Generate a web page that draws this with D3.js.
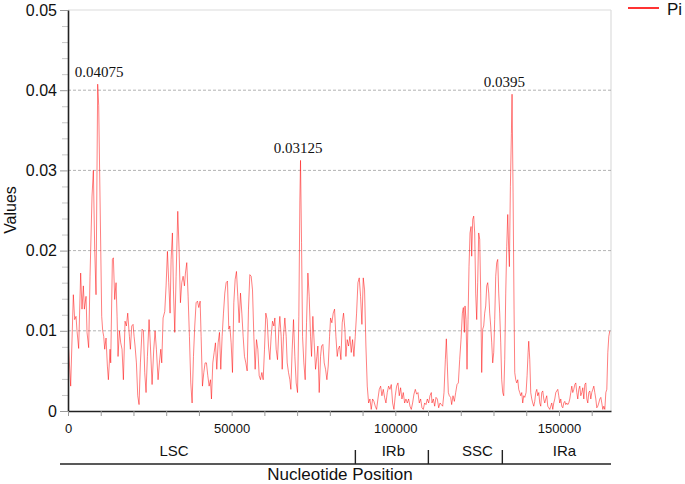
<!DOCTYPE html>
<html>
<head>
<meta charset="utf-8">
<script src="https://cdn.jsdelivr.net/npm/d3@7"></script>
<style>
  body { margin: 0; background: #fff; }
  svg { display: block; font-family: "Liberation Sans", Arial, sans-serif; }
</style>
</head>
<body>
<div id="chart"></div>
<script>
// Sliding-window nucleotide diversity: [position (kb), Pi]
const piSeries = [
  [0.2,.0077],[0.82,.0031],[1.63,.0145],[2.04,.0114],[2.45,.0118],[2.75,.0100],[3.26,.0078],[3.87,.0172],[4.28,.0127],[4.69,.0156],
  [5.00,.0127],[5.51,.0143],[5.81,.0098],[6.32,.0079],[6.73,.0168],[7.34,.0268],[7.75,.0300],[8.16,.0201],[8.56,.0145],[9.07,.04075],
  [9.38,.0381],[10.30,.0118],[10.60,.0100],[10.91,.0093],[11.22,.0077],[11.62,.0091],[12.03,.0056],[12.34,.0039],[12.85,.0077],[13.05,.0060],
  [13.56,.0189],[13.86,.0191],[14.27,.0139],[14.68,.0160],[14.99,.0118],[15.29,.0068],[15.70,.0100],[16.11,.0085],[16.51,.0077],[16.92,.0039],
  [17.43,.0112],[17.84,.0106],[18.25,.0122],[18.76,.0093],[19.06,.0077],[19.47,.0106],[19.88,.0108],[20.19,.0093],[20.49,.0081],[20.90,.0060],
  [21.31,.0019],[21.71,.0008],[22.12,.0060],[22.63,.0102],[23.04,.0100],[23.44,.0048],[23.85,.0023],[24.26,.0068],[24.77,.0114],[25.18,.0081],
  [25.69,.0033],[26.20,.0077],[26.60,.0100],[27.01,.0077],[27.52,.0039],[27.93,.0060],[28.34,.0077],[28.64,.0060],[29.05,.0116],[29.56,.0124],
  [29.97,.0156],[30.38,.0199],[30.78,.0160],[31.19,.0122],[31.50,.0189],[31.90,.0222],[32.21,.0151],[32.62,.0098],[33.03,.0168],[33.54,.0249],
  [33.94,.0201],[34.35,.0135],[34.76,.0160],[35.17,.0168],[35.57,.0156],[35.88,.0172],[36.29,.0185],[36.70,.0143],[37.10,.0093],[37.51,.0035],
  [37.92,.0010],[38.33,.0068],[38.73,.0106],[39.14,.0135],[39.55,.0137],[39.96,.0129],[40.37,.0137],[40.67,.0093],[41.08,.0031],[41.49,.0048],
  [41.89,.0060],[42.30,.0060],[42.71,.0044],[43.12,.0031],[43.52,.0039],[43.83,.0015],[44.24,.0060],[44.65,.0073],[45.05,.0085],[45.46,.0052],
  [45.87,.0085],[46.28,.0098],[46.68,.0052],[47.09,.0093],[47.50,.0122],[47.91,.0147],[48.32,.0160],[48.72,.0162],[49.13,.0102],[49.44,.0106],
  [49.84,.0085],[50.25,.0048],[50.66,.0135],[51.07,.0164],[51.47,.0174],[51.88,.0143],[52.29,.0110],[52.70,.0147],[53.11,.0122],[53.51,.0093],
  [53.92,.0068],[54.33,.0060],[54.74,.0050],[55.14,.0127],[55.55,.0170],
  [55.96,.0168],[56.37,.0151],[56.78,.0093],[57.18,.0052],[57.59,.0089],[58.00,.0077],[58.41,.0044],[58.81,.0039],[59.22,.0048],[59.63,.0039],
  [60.04,.0077],[60.44,.0122],[60.85,.0114],[61.26,.0081],[61.67,.0064],[62.07,.0093],[62.48,.0112],[62.89,.0106],[63.20,.0116],[63.60,.0077],
  [64.01,.0064],[64.42,.0102],[64.72,.0118],[65.13,.0093],[65.44,.0052],[65.84,.0093],[66.25,.0116],[66.66,.0093],[66.97,.0060],[67.37,.0048],
  [67.78,.0039],[68.09,.0027],[68.49,.0077],[68.90,.0114],[69.31,.0068],[69.72,.0035],[70.13,.0023],[70.53,.0118],[70.84,.0263],[71.04,.03125],
  [71.35,.0210],[71.66,.0093],[72.06,.0060],[72.47,.0039],[72.88,.0110],[73.29,.0172],[73.69,.0143],[74.10,.0093],[74.41,.0068],[74.81,.0118],
  [75.22,.0085],[75.63,.0052],[76.04,.0068],[76.34,.0081],[76.75,.0023],[77.16,.0068],[77.47,.0081],[77.87,.0083],[78.28,.0060],[78.69,.0052],
  [79.10,.0039],[79.50,.0056],[79.91,.0093],[80.22,.0116],[80.62,.0110],[81.03,.0122],[81.44,.0127],[81.85,.0093],[82.26,.0068],[82.56,.0077],
  [82.97,.0081],[83.38,.0064],[83.78,.0110],[84.19,.0122],[84.60,.0102],[84.91,.0068],[85.31,.0089],[85.72,.0081],[86.13,.0093],[86.54,.0073],
  [86.94,.0089],[87.35,.0068],[87.76,.0093],[88.17,.0122],[88.58,.0160],[88.98,.0166],[89.39,.0143],[89.80,.0108],[90.21,.0166],[90.61,.0151],
  [91.02,.0081],[91.43,.0031],[91.84,.0010],[92.24,.0015],[92.65,.0002],[93.06,.0015],[93.47,.0012],[93.88,.0006],[94.28,.0002],[94.69,.0015],
  [95.10,.0027],[95.51,.0031],[95.91,.0019],[96.32,.0027],[96.73,.0017],[97.14,.0010],[97.54,.0023],[97.95,.0031],[98.36,.0027],[98.77,.0033],
  [99.18,.0010],[99.58,.0002],[99.99,.0019],[100.40,.0031],[100.81,.0035],[101.21,.0019],[101.62,.0029],[102.03,.0015],[102.44,.0023],[102.85,.0010],
  [103.25,.0015],[103.66,.0010],[104.07,.0015],[104.48,.0006],[104.88,.0002],[105.29,.0010],[105.70,.0021],[106.11,.0027],[106.52,.0021],[106.92,.0023],
  [107.33,.0010],[107.74,.0015],[108.15,.0004],[108.55,.0002],[108.96,.0010],[109.37,.0008],[109.78,.0015],[110.19,.0010],[110.59,.0019],[111.00,.0023],
  [111.21,.0010],[111.62,.0015],[112.03,.0006],[112.43,.0017],[112.84,.0015],[113.25,.0004],[113.66,.0010],[114.06,.0008],[114.47,.0006],[114.88,.0023],
  [115.29,.0064],[115.59,.0090],[115.90,.0056],[116.20,.0023],[116.51,.0019],[116.92,.0017],[117.22,.0008],[117.63,.0019],[118.04,.0012],[118.45,.0023],
  [118.85,.0033],[119.26,.0035],[119.67,.0064],[120.08,.0089],[120.49,.0122],[120.79,.0129],[121.10,.0098],[121.30,.0131],[121.61,.0114],[121.91,.0052],
  [122.22,.0114],[122.52,.0180],[122.83,.0222],[123.14,.0230],[123.34,.0193],[123.65,.0239],[123.95,.0243],[124.26,.0222],[124.56,.0147],[124.87,.0114],
  [125.17,.0160],[125.48,.0222],[125.79,.0214],[126.09,.0147],[126.40,.0048],[126.70,.0102],[127.01,.0106],[127.31,.0122],[127.62,.0131],[127.93,.0156],
  [128.23,.0160],[128.54,.0147],[128.84,.0122],[129.15,.0106],[129.46,.0085],[129.76,.0060],[130.07,.0073],[130.37,.0114],[130.68,.0168],[130.98,.0185],
  [131.29,.0189],[131.60,.0147],[131.90,.0122],[132.21,.0085],[132.51,.0039],[132.82,.0023],[133.12,.0019],[133.43,.0064],[133.74,.0147],[134.04,.0205],
  [134.35,.0245],[134.65,.0201],[134.86,.0180],[135.16,.0280],[135.47,.0346],[135.67,.0395],[135.98,.0272],[136.28,.0127],[136.49,.0048],[136.79,.0039],
  [137.10,.0035],[137.41,.0039],[137.71,.0027],[138.02,.0023],[138.32,.0019],[138.63,.0023],[138.93,.0010],[139.24,.0019],[139.55,.0017],[139.95,.0023],
  [140.26,.0044],[140.57,.0073],[140.77,.0087],[141.08,.0064],[141.38,.0023],[141.69,.0015],[141.99,.0010],[142.30,.0006],[142.60,.0012],[142.91,.0023],
  [143.22,.0027],[143.52,.0019],[143.83,.0023],[144.13,.0010],[144.44,.0006],[144.74,.0023],[145.05,.0025],[145.36,.0015],[145.66,.0010],[145.97,.0015],
  [146.27,.0019],[146.58,.0006],[146.89,.0004],[147.19,.0002],[147.50,.0006],[147.80,.0010],[148.11,.0002],[148.41,.0010],[148.72,.0015],[149.03,.0023],
  [149.33,.0025],[149.64,.0027],[149.94,.0019],[150.25,.0010],[150.55,.0015],[150.86,.0006],[151.17,.0004],[151.47,.0010],[151.78,.0012],[152.08,.0008],
  [152.39,.0010],[152.70,.0008],[153.00,.0010],[153.31,.0015],[153.61,.0023],[153.92,.0031],[154.22,.0023],[154.53,.0027],[154.84,.0033],[155.14,.0035],
  [155.45,.0023],[155.75,.0015],[156.06,.0027],[156.36,.0031],[156.67,.0019],[156.98,.0023],[157.28,.0029],[157.59,.0015],[157.89,.0033],[158.20,.0035],
  [158.51,.0015],[158.81,.0010],[159.12,.0023],[159.42,.0025],[159.73,.0015],[160.03,.0023],[160.34,.0027],[160.65,.0031],[160.95,.0023],[161.26,.0015],
  [161.56,.0004],[161.87,.0006],[162.17,.0010],[162.48,.0015],[162.79,.0017],[163.09,.0010],[163.40,.0002],[163.70,.0006],[164.01,.0002],[164.32,.0023],
  [164.62,.0027],[164.93,.0073],[165.23,.0093],[165.54,.0100]
];

const genomeLength = 165900;
const yMax = 0.05;
const xTickValues = [0, 50000, 100000, 150000];
const yTickValues = [0, 0.01, 0.02, 0.03, 0.04, 0.05];
const gridValues = [0.01, 0.02, 0.03, 0.04];

// chloroplast regions
const regionNames = ["LSC", "IRb", "SSC", "IRa"];
const regionLabelPos = [32400, 99400, 125100, 151700];
const regionBreaks = [87800, 110100, 132700];

// peak annotations
const peakTexts = ["0.04075", "0.03125", "0.0395"];
const peakValues = [0.04075, 0.03125, 0.0395];
const peakLabelPos = [9500, 70300, 133300];

const W = 685, H = 484;
const margin = { top: 10, right: 74, bottom: 73, left: 68 },
    width = W - margin.left - margin.right,
    height = H - margin.top - margin.bottom;

const svg = d3.select("#chart")
    .append("svg")
    .attr("width", W)
    .attr("height", H);

const g = svg.append("g")
    .attr("transform", `translate(${margin.left},${margin.top})`);

const x = d3.scaleLinear().domain([0, genomeLength]).range([0, width]);
const y = d3.scaleLinear().domain([0, yMax]).range([height, 0]);

// frame on top and right
g.append("line")
    .attr("x1", 0).attr("x2", width)
    .attr("y1", y(yMax)).attr("y2", y(yMax))
    .attr("stroke", "#dcdcdc").attr("stroke-width", 1.2);
g.append("line")
    .attr("x1", width).attr("x2", width)
    .attr("y1", y(yMax)).attr("y2", y(0))
    .attr("stroke", "#dcdcdc").attr("stroke-width", 1.2);

// dashed grid
g.selectAll(".grid")
    .data(gridValues)
    .enter().append("line")
    .attr("class", "grid")
    .attr("x1", 0).attr("x2", width)
    .attr("y1", d => y(d)).attr("y2", d => y(d))
    .attr("stroke", "#a0a0a0")
    .attr("stroke-width", 0.8)
    .attr("stroke-dasharray", "3,2");

// the Pi line
const line = d3.line()
    .x(d => x(d[0] * 1000))
    .y(d => y(d[1]));

g.append("path")
    .datum(piSeries)
    .attr("fill", "none")
    .attr("stroke", "#ff0000")
    .attr("stroke-opacity", 0.5)
    .attr("stroke-width", 1)
    .attr("stroke-linejoin", "round")
    .attr("d", line);

// y axis: minor then major ticks
const yMinor = d3.range(0, yMax + 1e-9, 0.002).filter(v => Math.abs(v * 100 - Math.round(v * 100)) > 1e-6);
g.append("g")
    .call(d3.axisLeft(y).tickValues(yMinor).tickSize(6).tickFormat(""))
    .call(a => a.select(".domain").remove())
    .call(a => a.selectAll("line").attr("stroke", "#c8c8c8"));

g.append("g")
    .call(d3.axisLeft(y).tickValues(yTickValues).tickSize(8).tickSizeOuter(0).tickPadding(3)
        .tickFormat(d => d === 0 ? "0" : d3.format(".2f")(d)))
    .call(a => a.select(".domain").attr("stroke", "#222").attr("stroke-width", 1.6))
    .call(a => a.selectAll("line").attr("stroke", "#999"))
    .call(a => a.selectAll("text")
        .style("font-size", "16px")
        .style("font-family", "'Liberation Sans', Arial, sans-serif")
        .attr("fill", "#111"));

// x axis
g.append("g")
    .attr("transform", `translate(0,${height})`)
    .call(d3.axisBottom(x).tickValues(d3.range(0, genomeLength, 10000)).tickSize(5).tickSizeOuter(0).tickPadding(8)
        .tickFormat(d => xTickValues.includes(d) ? d3.format("d")(d) : ""))
    .call(a => a.select(".domain").attr("stroke", "#222").attr("stroke-width", 1.6))
    .call(a => a.selectAll("line").attr("stroke", "#999"))
    .call(a => a.selectAll("text")
        .style("font-size", "13px")
        .style("font-family", "'Liberation Sans', Arial, sans-serif")
        .attr("fill", "#111"));

// peak labels
g.selectAll(".peak")
    .data(peakTexts)
    .enter().append("text")
    .attr("class", "peak")
    .attr("x", (d, i) => x(peakLabelPos[i]))
    .attr("y", (d, i) => y(peakValues[i]) - 7)
    .attr("text-anchor", "middle")
    .style("font-family", "'Liberation Serif', 'Times New Roman', serif")
    .style("font-size", "15px")
    .attr("fill", "#111")
    .text(d => d);

// region bracket
const bracketY = 454;
g.append("line")
    .attr("x1", -8).attr("x2", width)
    .attr("y1", bracketY).attr("y2", bracketY)
    .attr("stroke", "#222").attr("stroke-width", 1.4);

g.selectAll(".rbreak")
    .data(regionBreaks)
    .enter().append("line")
    .attr("class", "rbreak")
    .attr("x1", d => x(d)).attr("x2", d => x(d))
    .attr("y1", bracketY - 14).attr("y2", bracketY)
    .attr("stroke", "#222").attr("stroke-width", 1.4);

g.selectAll(".rlabel")
    .data(regionNames)
    .enter().append("text")
    .attr("class", "rlabel")
    .attr("x", (d, i) => x(regionLabelPos[i]))
    .attr("y", bracketY - 8)
    .attr("text-anchor", "middle")
    .style("font-size", "15px")
    .attr("fill", "#111")
    .text(d => d);

// axis titles
svg.append("text")
    .attr("x", 340)
    .attr("y", 480)
    .attr("text-anchor", "middle")
    .style("font-size", "17px")
    .attr("fill", "#111")
    .text("Nucleotide Position");

svg.append("text")
    .attr("transform", "translate(16,210) rotate(-90)")
    .attr("text-anchor", "middle")
    .style("font-size", "16px")
    .attr("fill", "#111")
    .text("Values");

// legend
svg.append("line")
    .attr("x1", 628).attr("x2", 659)
    .attr("y1", 8).attr("y2", 8)
    .attr("stroke", "#ff0000").attr("stroke-width", 1.6);

svg.append("text")
    .attr("x", 667)
    .attr("y", 15)
    .style("font-size", "17px")
    .attr("fill", "#111")
    .text("Pi");
</script>
</body>
</html>
